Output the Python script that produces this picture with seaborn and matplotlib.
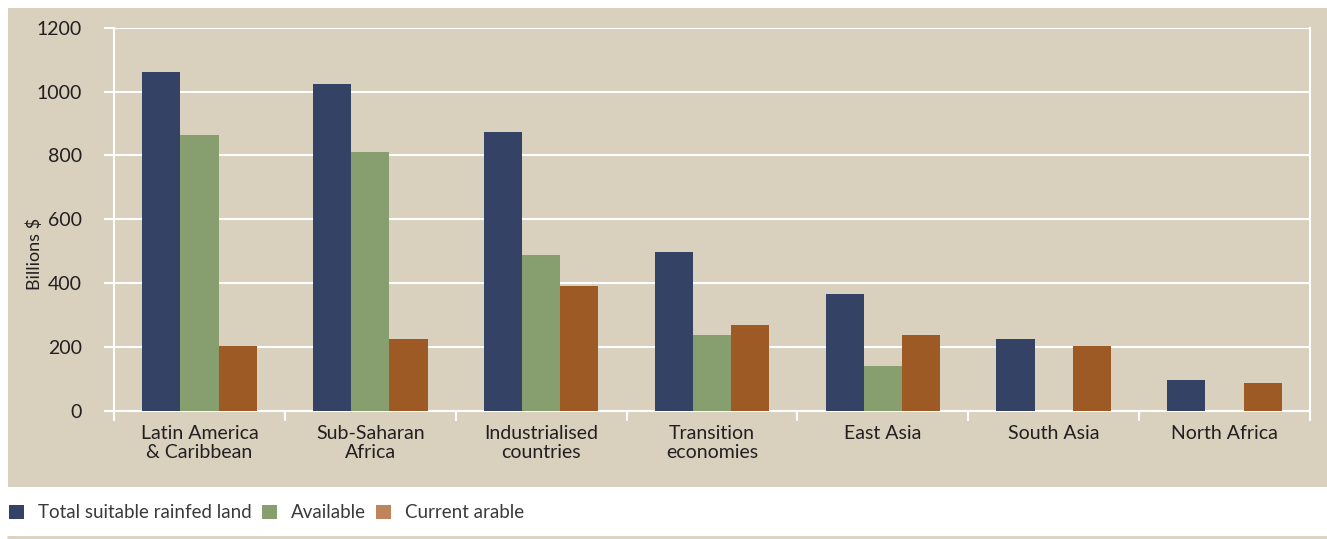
import matplotlib
matplotlib.use("Agg")
import matplotlib.pyplot as plt
from matplotlib.patches import Rectangle, Patch
from matplotlib.lines import Line2D
from matplotlib.ticker import FixedLocator
import numpy as np
import pandas as pd
import seaborn as sns

regions = ["Latin America\n& Caribbean", "Sub-Saharan\nAfrica", "Industrialised\ncountries",
           "Transition\neconomies", "East Asia", "South Asia", "North Africa"]
series = ["Total suitable rainfed land", "Available", "Current arable"]
total_suitable = [1060, 1025, 875, 497, 365, 225, 96]
available = [863, 810, 487, 237, 140, np.nan, np.nan]
current_arable = [205, 225, 390, 268, 237, 203, 87]
y_ticks = [0, 200, 400, 600, 800, 1000, 1200]

bar_colors = ["#344266", "#879F6E", "#9E5A24"]
legend_colors = ["#344266", "#879F6E", "#BF845B"]
panel_bg = "#D9D0BE"
text_color = "#231F20"

df = pd.DataFrame({
    "region": regions * 3,
    "series": [s for s in series for _ in regions],
    "value": total_suitable + available + current_arable,
})

sns.set_theme(style="white")
plt.rcParams["font.family"] = ["Lato", "DejaVu Sans"]

W, H = 1327, 539
fig = plt.figure(figsize=(W / 100, H / 100), dpi=100)
fig.patch.set_facecolor("white")

# beige panel behind the plot area
fig.add_artist(Rectangle((8 / W, 1 - 487 / H), 1 - 8 / W, (487 - 8) / H,
                         transform=fig.transFigure, facecolor=panel_bg,
                         edgecolor="none", zorder=0))
# thin rule under the legend
fig.add_artist(Line2D([8 / W, 1], [1 - 537 / H] * 2, transform=fig.transFigure,
                      color=panel_bg, lw=2, zorder=0))

ax = fig.add_axes([114 / W, 1 - 411 / H, (1310 - 114) / W, (411 - 27.7) / H])
ax.set_facecolor(panel_bg)

sns.barplot(data=df, x="region", y="value", hue="series", hue_order=series,
            order=regions, palette=bar_colors, width=0.67, gap=0,
            saturation=1, errorbar=None, legend=False, ax=ax, zorder=3,
            linewidth=0, edgecolor="none")

ax.set_ylim(0, 1200)
ax.set_xlim(-0.5, len(regions) - 0.5)
ax.set_yticks(y_ticks)
ax.set_yticklabels([str(v) for v in y_ticks])
ax.yaxis.grid(True, color="white", lw=1.5, zorder=1)
ax.set_axisbelow(True)

ax.xaxis.set_minor_locator(FixedLocator(np.arange(-0.5, len(regions), 1.0)))
ax.tick_params(axis="x", which="major", length=0, pad=10, labelsize=14,
               labelcolor=text_color)
ax.tick_params(axis="x", which="minor", length=7, width=1.5, color="white",
               direction="out", bottom=True)
ax.tick_params(axis="y", which="major", length=7, width=1.5, color="white",
               direction="out", left=True, pad=16, labelsize=14,
               labelcolor=text_color)
for lbl in ax.get_xticklabels():
    lbl.set_linespacing(1.15)

for side in ["left", "bottom", "right", "top"]:
    ax.spines[side].set_color("white")
    ax.spines[side].set_linewidth(1.5)
ax.spines["top"].set_visible(False)

ax.set_xlabel("")
ax.set_ylabel("Billions $", fontsize=13, color=text_color)
ax.yaxis.set_label_coords((43 - 114) / (1310 - 114), (411 - 254) / (411 - 27.7))

handles = [Patch(facecolor=c, edgecolor="none") for c in legend_colors]
fig.legend(handles, series, loc="center left", bbox_to_anchor=(-8 / W, 1 - 513 / H),
           ncol=3, frameon=False, handlelength=0.8, handleheight=0.8,
           handletextpad=0.75, columnspacing=0.55, labelcolor="#3A3A3A",
           prop={"family": ["Lato", "DejaVu Sans"], "size": 13.5})

fig.savefig("out.png", dpi=100, facecolor="white")
